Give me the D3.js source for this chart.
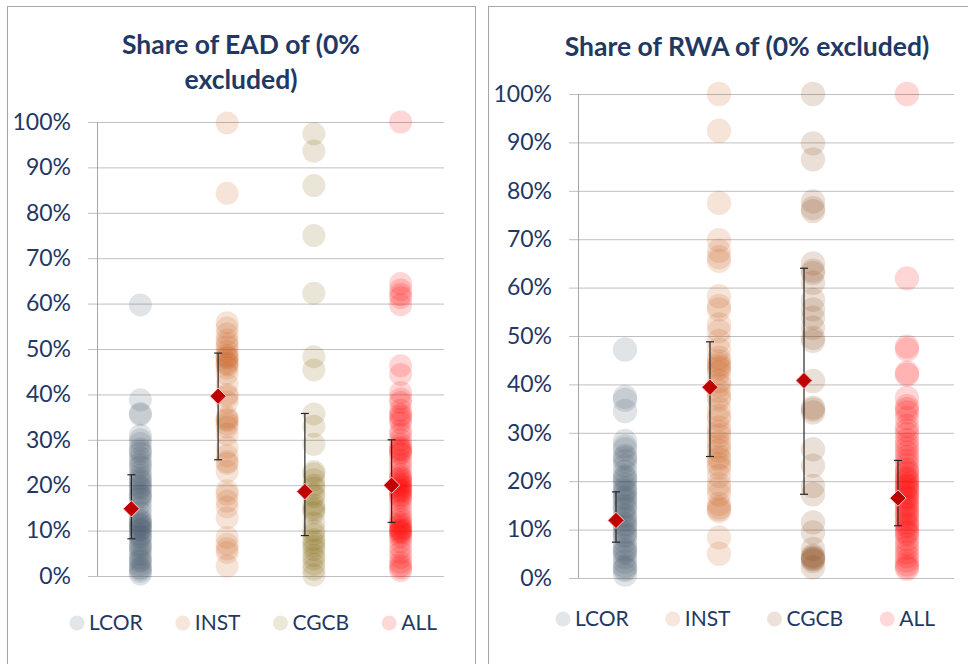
<!doctype html>
<html lang="en">
  <head>
    <meta charset="UTF-8" />
    <title>Share of EAD / RWA (0% excluded)</title>
    <script src="https://d3js.org/d3.v7.min.js"></script>
    <style>
      body {
        margin: 0;
        padding: 0;
        background: #fff;
        overflow: hidden;
      }
      svg {
        display: block;
        font-family: Lato, "Open Sans", sans-serif;
      }
    </style>
  </head>
  <body>
    <script>
      const categories = ["LCOR", "INST", "CGCB", "ALL"];
      const colors = {
        LCOR: "#44546A",
        INST: "#C55A11",
        CGCB: "#7F6000",
        ALL: "#FF0000",
      };
      const colorsRwa = { ...colors, CGCB: "#843C0C" };
      const yTicks = [0, 10, 20, 30, 40, 50, 60, 70, 80, 90, 100];

      // share of EAD, per bank, in %
      const eadLCOR = [59.7, 38.8, 35.8, 35.5, 31.0, 30.0, 29.2, 28.0, 27.5, 27.0, 26.0, 25.2, 24.5, 24.0, 23.0, 22.2, 21.5, 21.0, 20.5, 19.8, 19.5, 19.0, 18.2, 17.8, 17.5, 17.0, 16.0, 15.0, 14.0, 12.8, 12.2, 12.0, 11.5, 11.2, 11.0, 10.5, 10.2, 10.0, 9.2, 8.8, 8.5, 7.8, 7.0, 6.5, 6.2, 5.5, 4.8, 4.0, 3.5, 3.2, 2.5, 1.8, 1.5, 1.0, 0.4];
      const eadINST = [99.8, 84.3, 55.8, 54.6, 53.3, 52.0, 51.2, 50.5, 49.5, 48.6, 48.2, 48.0, 47.2, 46.8, 46.5, 45.8, 44.5, 42.2, 40.0, 39.5, 38.3, 35.0, 34.5, 34.3, 33.5, 32.8, 31.2, 28.4, 26.5, 25.2, 24.8, 23.0, 18.8, 18.0, 16.5, 15.2, 12.8, 8.5, 7.0, 6.0, 5.2, 2.2];
      const eadCGCB = [97.4, 93.6, 86.0, 75.0, 62.3, 48.3, 45.4, 35.7, 33.0, 29.0, 23.0, 22.5, 21.2, 20.0, 19.4, 18.0, 17.5, 15.7, 15.0, 14.5, 13.9, 11.7, 10.0, 9.2, 8.0, 7.3, 6.5, 5.8, 4.5, 3.8, 2.6, 1.5, 0.2];
      const eadALL = [100, 64.4, 63.0, 62.0, 61.3, 59.7, 46.3, 44.4, 40.4, 39.0, 38.2, 36.5, 35.6, 35.2, 34.5, 33.8, 32.0, 31.2, 30.0, 29.0, 28.3, 27.9, 27.6, 27.2, 26.8, 25.5, 24.6, 23.5, 22.4, 21.8, 21.5, 21.0, 20.6, 20.2, 19.8, 19.5, 19.0, 18.8, 18.5, 18.0, 17.6, 17.2, 16.6, 15.5, 14.4, 13.2, 12.5, 11.8, 11.4, 11.0, 10.5, 10.2, 10.0, 9.7, 9.5, 9.0, 8.5, 7.5, 6.3, 5.2, 4.1, 3.0, 2.3, 1.8, 1.2];
      const eadMean = [14.8, 39.6, 18.6, 20.0];
      const eadLow = [8.2, 25.6, 8.9, 11.8];
      const eadHigh = [22.3, 49.1, 35.8, 30.0];

      // share of RWA, per bank, in %
      const rwaLCOR = [47.2, 37.4, 36.8, 34.5, 28.3, 27.2, 26.6, 25.2, 24.8, 24.2, 23.2, 22.0, 21.0, 20.6, 20.2, 19.3, 18.5, 18.0, 17.6, 16.8, 16.4, 15.9, 15.0, 14.6, 14.1, 13.0, 12.5, 12.0, 11.2, 10.8, 10.3, 9.5, 9.0, 8.6, 7.6, 6.6, 5.9, 5.5, 5.2, 4.3, 3.4, 2.5, 2.0, 1.7, 0.7];
      const rwaINST = [100, 92.4, 77.5, 69.8, 67.6, 66.3, 65.5, 58.2, 56.2, 55.5, 52.4, 51.0, 49.0, 47.2, 45.5, 44.8, 44.1, 43.6, 43.2, 42.4, 40.7, 39.8, 38.6, 37.5, 36.9, 34.9, 33.5, 32.8, 31.1, 30.2, 29.4, 28.0, 27.2, 26.3, 25.0, 24.5, 23.5, 22.8, 21.1, 19.4, 18.5, 17.3, 15.3, 14.6, 14.2, 13.8, 8.4, 5.0];
      const rwaCGCB = [100, 89.8, 86.5, 77.8, 76.4, 75.8, 65.0, 63.5, 63.0, 61.0, 57.5, 55.5, 53.8, 51.7, 49.6, 49.0, 40.7, 35.2, 34.8, 34.2, 26.6, 23.2, 19.0, 17.3, 11.5, 9.4, 6.0, 4.6, 4.3, 4.0, 3.9, 3.5, 2.2];
      const rwaALL = [100, 61.9, 47.8, 47.2, 42.4, 42.0, 37.2, 35.5, 34.9, 34.2, 33.0, 31.4, 30.5, 29.7, 28.5, 27.6, 26.8, 25.9, 25.0, 24.2, 23.4, 22.5, 22.0, 21.6, 20.8, 20.4, 20.0, 19.4, 19.0, 18.6, 18.2, 17.7, 17.0, 16.6, 16.3, 15.5, 15.0, 14.6, 13.8, 13.3, 12.9, 12.2, 11.5, 11.0, 10.6, 9.8, 9.4, 9.0, 8.0, 7.0, 6.2, 5.3, 4.5, 3.6, 2.8, 2.3, 1.9];
      const rwaMean = [11.9, 39.4, 40.8, 16.5];
      const rwaLow = [7.4, 25.1, 17.3, 10.8];
      const rwaHigh = [17.8, 48.8, 64.0, 24.3];

      const W = 968,
        H = 664;
      const navy = "#1F3864";

      const svg = d3.select("body").append("svg").attr("width", W).attr("height", H);

      function drawPanel(o) {
        const g = svg.append("g");

        g.append("rect")
          .attr("x", o.box[0] + 0.5)
          .attr("y", o.box[1] + 0.5)
          .attr("width", o.box[2])
          .attr("height", o.box[3])
          .attr("fill", "#fff")
          .attr("stroke", "#A6A6A6");

        // title
        const title = g
          .append("text")
          .attr("text-anchor", "middle")
          .attr("fill", navy)
          .attr("font-weight", "bold")
          .attr("font-size", 26.5);
        o.title.forEach((t, i) =>
          title
            .append("tspan")
            .attr("x", o.titleX)
            .attr("y", o.titleY + i * 35)
            .text(t),
        );

        const x = d3.scaleBand().domain(categories).range([o.left, o.right]);
        const y = d3.scaleLinear().domain([0, 100]).range([o.bottom, o.top]);

        // gridlines + labels
        const yAxis = d3
          .axisLeft(y)
          .tickValues(yTicks)
          .tickSize(-(o.right - o.left + 9))
          .tickFormat((d) => d + "%");
        const ax = g
          .append("g")
          .attr("transform", `translate(${o.left - 9},0)`)
          .call(yAxis);
        ax.select(".domain").remove();
        ax.selectAll(".tick line").attr("stroke", "#BFBFBF").attr("stroke-width", 1);
        ax.selectAll(".tick text")
          .attr("x", -17)
          .attr("fill", navy)
          .attr("font-size", 23)
          .attr("font-family", "Lato, sans-serif");

        g.append("line")
          .attr("x1", o.left + 0.5)
          .attr("x2", o.left + 0.5)
          .attr("y1", y(100))
          .attr("y2", y(0))
          .attr("stroke", "#A6A6A6");

        // points
        categories.forEach((c, i) => {
          g.append("g")
            .selectAll("circle")
            .data(o.series[i])
            .join("circle")
            .attr("cx", x(c) + x.bandwidth() / 2)
            .attr("cy", (d) => y(d))
            .attr("r", o.r)
            .attr("fill", o.colors[c])
            .attr("fill-opacity", 0.16);
        });

        // error bars + mean
        const dx = -9;
        categories.forEach((c, i) => {
          const cx = x(c) + x.bandwidth() / 2 + dx;
          const eb = g.append("g").attr("stroke", "#262626").attr("stroke-width", 1.2);
          eb.append("line").attr("x1", cx).attr("x2", cx).attr("y1", y(o.low[i])).attr("y2", y(o.high[i]));
          [o.low[i], o.high[i]].forEach((v) =>
            eb.append("line").attr("x1", cx - 4).attr("x2", cx + 4).attr("y1", y(v)).attr("y2", y(v)),
          );
          g.append("path")
            .attr("d", d3.symbol(d3.symbolDiamond2, 170)())
            .attr("transform", `translate(${cx},${y(o.mean[i])})`)
            .attr("fill", "#C00000")
            .attr("stroke", "#F4D0D0")
            .attr("stroke-width", 1);
        });

        // legend
        const leg = g.append("g").attr("transform", `translate(0,${o.legendY})`);
        let lx = o.legendX;
        categories.forEach((c) => {
          leg.append("circle").attr("cx", lx).attr("cy", 0).attr("r", 7.5).attr("fill", o.colors[c]).attr("fill-opacity", 0.15);
          const t = leg
            .append("text")
            .attr("x", lx + 12)
            .attr("y", 0)
            .attr("dy", "0.35em")
            .attr("fill", navy)
            .attr("font-size", 21)
            .text(c);
          lx += 12 + t.node().getComputedTextLength() + o.legendGap;
        });
      }

      drawPanel({
        box: [7, 6, 468, 700],
        title: ["Share of EAD of (0%", "excluded)"],
        titleX: 241,
        titleY: 54,
        left: 97,
        right: 444,
        top: 122,
        bottom: 576,
        r: 11.5,
        colors: colors,
        series: [eadLCOR, eadINST, eadCGCB, eadALL],
        mean: eadMean,
        low: eadLow,
        high: eadHigh,
        legendX: 77,
        legendY: 623,
        legendGap: 40,
      });

      drawPanel({
        box: [488, 6, 500, 700],
        title: ["Share of RWA of (0% excluded)"],
        titleX: 747,
        titleY: 56,
        left: 578,
        right: 954,
        top: 94,
        bottom: 578,
        r: 12.2,
        colors: colorsRwa,
        series: [rwaLCOR, rwaINST, rwaCGCB, rwaALL],
        mean: rwaMean,
        low: rwaLow,
        high: rwaHigh,
        legendX: 563,
        legendY: 619,
        legendGap: 44,
      });
    </script>
  </body>
</html>
